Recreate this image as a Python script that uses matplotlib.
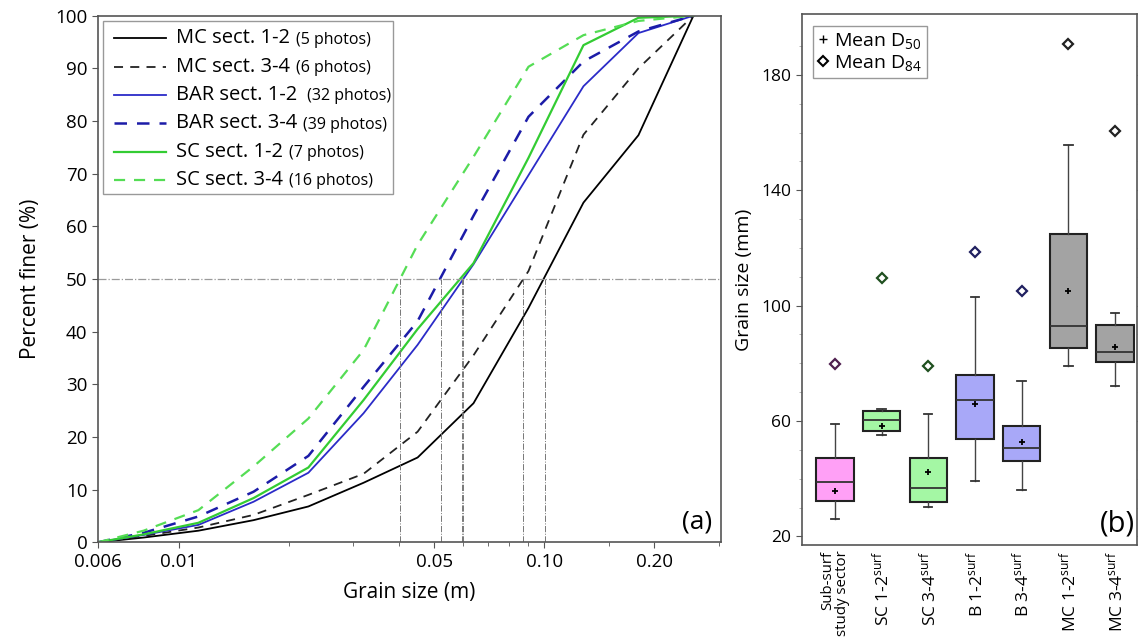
import numpy as np
import matplotlib
matplotlib.use("Agg")
import matplotlib.pyplot as plt
from matplotlib.lines import Line2D
from matplotlib.ticker import NullFormatter

plt.rcParams['font.family'] = ['Open Sans', 'DejaVu Sans']
plt.rcParams['mathtext.fontset'] = 'custom'
plt.rcParams['mathtext.rm'] = 'Open Sans'
plt.rcParams['mathtext.it'] = 'Open Sans:italic'

# ------------------------------------------------------------------
# (a) grain size distributions
# ------------------------------------------------------------------
sizes = [0.006, 0.008, 0.0113, 0.016, 0.0226, 0.032, 0.045, 0.064, 0.0905, 0.128, 0.181, 0.256]
mc12 = [0, 0.9, 2.2, 4.2, 6.8, 11.3, 16.1, 26.4, 44.5, 64.5, 77.3, 100]
mc34 = [0, 1.2, 2.8, 5.2, 9.0, 13.0, 21.0, 35.5, 51.5, 77.4, 90.0, 100]
bar12 = [0, 1.4, 3.3, 7.7, 13.2, 24.5, 37.5, 52.8, 69.7, 86.6, 96.7, 100]
bar34 = [0, 1.8, 4.9, 9.6, 16.4, 29.5, 42.0, 62.0, 80.8, 91.3, 97.0, 100]
sc12 = [0, 1.5, 3.7, 8.4, 14.2, 27.0, 40.5, 53.0, 73.0, 94.4, 99.6, 100]
sc34 = [0, 2.2, 6.1, 14.4, 23.5, 36.5, 56.5, 73.2, 90.3, 96.3, 99.0, 100]

d50 = [0.1002, 0.0876, 0.0600, 0.0521, 0.0594, 0.0403]

series_names = ["MC sect. 1-2", "MC sect. 3-4", "BAR sect. 1-2", "BAR sect. 3-4",
                "SC sect. 1-2", "SC sect. 3-4"]
photo_notes = ["(5 photos)", "(6 photos)", " (32 photos)", "(39 photos)",
               "(7 photos)", "(16 photos)"]
series_vals = [mc12, mc34, bar12, bar34, sc12, sc34]
colors = ['black', '#222222', '#2b2bc8', '#1c1ca8', '#33cc33', '#55dd55']
solid = [True, False, True, False, True, False]
widths = [1.3, 1.3, 1.3, 1.8, 1.6, 1.6]

xticks_a = [0.006, 0.01, 0.05, 0.10, 0.20]
xticklabels_a = ['0.006', '0.01', '0.05', '0.10', '0.20']
xminor_a = [0.02, 0.03, 0.04, 0.06, 0.07, 0.08, 0.09, 0.15, 0.3]

# ------------------------------------------------------------------
# (b) box plots
# ------------------------------------------------------------------
box_labels = ["Sub-surf\nstudy sector", r"SC 1-2$^{\mathrm{surf}}$", r"SC 3-4$^{\mathrm{surf}}$",
              r"B 1-2$^{\mathrm{surf}}$", r"B 3-4$^{\mathrm{surf}}$",
              r"MC 1-2$^{\mathrm{surf}}$", r"MC 3-4$^{\mathrm{surf}}$"]
whis_lo = [25.9, 55.2, 30.3, 39.3, 36.2, 78.9, 72.2]
q1 = [32.3, 56.5, 31.9, 53.6, 46.3, 85.3, 80.5]
med = [38.9, 60.4, 36.6, 67.4, 50.6, 93.0, 83.9]
q3 = [47.0, 63.3, 47.0, 75.8, 58.3, 124.9, 93.4]
whis_hi = [58.8, 64.2, 62.3, 103.0, 73.7, 155.6, 97.6]
mean_d50 = [35.9, 58.1, 42.3, 66.0, 52.7, 105.1, 85.6]
mean_d84 = [79.6, 109.7, 79.0, 118.5, 104.9, 190.8, 160.5]
box_colors = ['#ffa0f6', '#a4f7a4', '#a4f7a4', '#a8a8f8', '#a8a8f8', '#a3a3a3', '#a3a3a3']
d84_edges = ['#502050', '#205020', '#205020', '#202060', '#202060', '#222222', '#222222']

# ==================================================================
fig = plt.figure(figsize=(11.38, 6.37), dpi=100)
ax = fig.add_axes([0.0861, 0.1487, 0.5472, 0.8267])
axb = fig.add_axes([0.7045, 0.1444, 0.2946, 0.8331])

# --- panel (a)
for vals, c, s, lw in zip(series_vals, colors, solid, widths):
    if s:
        ax.plot(sizes, vals, color=c, lw=lw)
    else:
        ax.plot(sizes, vals, color=c, lw=lw, dashes=(5, 4))

ax.axhline(50, color='#9a9a9a', lw=0.9, ls='-.')
ax.vlines(d50, 0, 50, color='#777777', lw=0.7, ls='-.')

ax.set_xscale('log')
ax.set_xlim(0.006, 0.304)
ax.set_ylim(0, 100)
ax.set_xticks(xticks_a, xticklabels_a)
ax.set_xticks(xminor_a, minor=True)
ax.xaxis.set_minor_formatter(NullFormatter())
ax.set_yticks(np.arange(0, 101, 10))
ax.tick_params(axis='both', which='major', labelsize=13.5, direction='out', length=4,
               color='#555555')
ax.tick_params(axis='x', which='minor', direction='out', length=3, color='#555555')
ax.set_xlabel('Grain size (m)', fontsize=15, labelpad=8)
ax.set_ylabel('Percent finer (%)', fontsize=15, labelpad=10)
for sp in ax.spines.values():
    sp.set_color('#555555')
    sp.set_linewidth(1.2)
ax.text(0.986, 0.014, '(a)', transform=ax.transAxes, ha='right', va='bottom', fontsize=19)

# manual legend with two font sizes
leg_frame = plt.Rectangle((0.0085, 0.661), 0.4645, 0.3295, transform=ax.transAxes,
                          facecolor='white', edgecolor='#999999', lw=1.0, zorder=5)
ax.add_patch(leg_frame)
row_y = 0.957
for name, note, c, s, lw in zip(series_names, photo_notes, colors, solid, widths):
    kw = {} if s else {'dashes': (5, 4)}
    ax.add_line(Line2D([0.0257, 0.1092], [row_y, row_y], transform=ax.transAxes,
                       color=c, lw=lw, zorder=6, **kw))
    t = ax.text(0.1253, row_y, name, transform=ax.transAxes, fontsize=14.5,
                va='center', ha='left', zorder=6)
    ax.annotate(note, xy=(1, 0.5), xycoords=t, xytext=(4, -1), textcoords='offset points',
                fontsize=11.5, va='center', ha='left', zorder=6)
    row_y -= 0.0538

# --- panel (b)
pos = np.arange(1, len(box_labels) + 1)
stats = [dict(whislo=a, q1=b, med=c, q3=d, whishi=e)
         for a, b, c, d, e in zip(whis_lo, q1, med, q3, whis_hi)]
bp = axb.bxp(stats, positions=pos, widths=0.8, showfliers=False, patch_artist=True,
             capwidths=0.18,
             boxprops=dict(edgecolor='#222222', linewidth=1.5),
             medianprops=dict(color='#333333', linewidth=1.3),
             whiskerprops=dict(color='#444444', linewidth=1.0),
             capprops=dict(color='#333333', linewidth=1.3))
for patch, fc in zip(bp['boxes'], box_colors):
    patch.set_facecolor(fc)

axb.plot(pos, mean_d50, ls='none', marker='+', color='black', ms=5, mew=1.3, zorder=4)
for p, v, ec in zip(pos, mean_d84, d84_edges):
    axb.plot([p], [v], ls='none', marker='D', ms=5, mfc='white', mec=ec, mew=1.6, zorder=4)

axb.set_xlim(0.29, 7.47)
axb.set_ylim(17, 201)
axb.set_yticks([20, 60, 100, 140, 180])
axb.set_yticks(np.arange(20, 200, 10), minor=True)
axb.set_xticks(pos, box_labels, rotation=90, multialignment='right', linespacing=0.95)
axb.tick_params(axis='x', length=0, labelsize=12.5, pad=4)
xlabs = axb.get_xticklabels()
xlabs[0].set_fontsize(10.8)
axb.tick_params(axis='y', which='major', labelsize=12.5, direction='out', length=4,
                color='#555555', right=True)
axb.tick_params(axis='y', which='minor', direction='out', length=2, color='#aaaaaa',
                right=True)
axb.set_ylabel('Grain size (mm)', fontsize=14, labelpad=6)
for sp in axb.spines.values():
    sp.set_color('#555555')
    sp.set_linewidth(1.2)
axb.text(0.995, 0.012, '(b)', transform=axb.transAxes, ha='right', va='bottom', fontsize=21)

handles = [Line2D([], [], ls='none', marker='+', color='black', ms=6, mew=1.0),
           Line2D([], [], ls='none', marker='D', ms=5, mfc='white', mec='black', mew=1.5)]
axb.legend(handles, [r'Mean D$_{50}$', r'Mean D$_{84}$'], loc='upper left', fontsize=14,
           handlelength=0.5, handletextpad=0.3, borderpad=0.25, labelspacing=0.1,
           borderaxespad=0.6, fancybox=False, edgecolor='#999999', framealpha=1)

fig.savefig('out.png', dpi=100)
